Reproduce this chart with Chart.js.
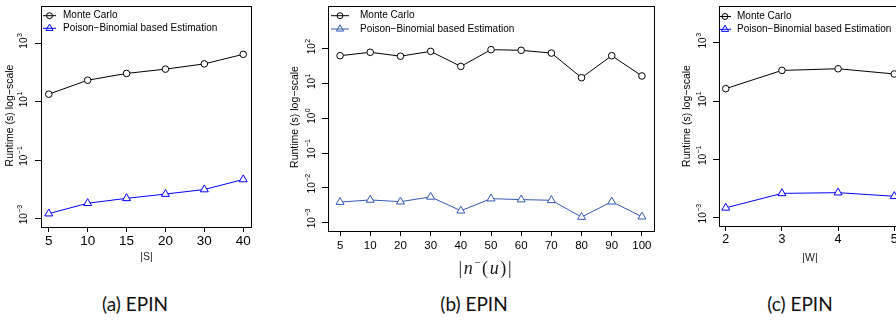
<!DOCTYPE html>
<html>
<head>
<meta charset="utf-8">
<script src="https://cdn.jsdelivr.net/npm/chart.js@4/dist/chart.umd.min.js"></script>
<style>
  html, body { margin: 0; padding: 0; background: #fff; }
  #page { position: relative; width: 896px; height: 323px; overflow: hidden; }
  canvas { position: absolute; top: 0; }
  .caption { position: absolute; top: 292px; width: 160px; text-align: center;
             font-family: Lato, "Open Sans", sans-serif; font-size: 19px; color: #111; }
</style>
</head>
<body>
<div id="page">
  <canvas id="chartS" width="280" height="270" style="left:0px"></canvas>
  <canvas id="chartN" width="400" height="290" style="left:280px"></canvas>
  <canvas id="chartW" width="240" height="270" style="left:680px"></canvas>
  <div class="caption" style="left:55px">(a) EPIN</div>
  <div class="caption" style="left:394px">(b) EPIN</div>
  <div class="caption" style="left:720px">(c) EPIN</div>
</div>
<script>
// (a) runtime vs |S|
const labelsS = ['5', '10', '15', '20', '30', '40'];
const monteCarloS = [18, 54, 92, 129, 195, 414];
const poisonS = [0.0015, 0.0034, 0.0050, 0.0070, 0.010, 0.022];

// (b) runtime vs |n-(u)|
const labelsN = ['5', '10', '20', '30', '40', '50', '60', '70', '80', '90', '100'];
const monteCarloN = [63, 79, 61, 84, 31, 94, 90, 75, 14.7, 63, 16.5];
const poisonN = [0.0039, 0.0045, 0.0040, 0.0055, 0.0022, 0.0049, 0.0046, 0.0044, 0.00145, 0.0040, 0.00148];

// (c) runtime vs |W|
const labelsW = ['2', '3', '4', '5'];
const monteCarloW = [27, 114, 130, 86];
const poisonW = [0.0022, 0.0069, 0.0073, 0.0055];

// y tick exponents (10^e)
const yExpS = [-3, -1, 1, 3];
const yExpN = [-3, -2, -1, 0, 1, 2];
const yExpW = [-3, -1, 1, 3];

const seriesNames = ['Monte Carlo', 'Poison\u2212Binomial based Estimation'];
const yTitle = 'Runtime (s) log\u2212scale';

Chart.defaults.font.family = '"Liberation Sans", Arial, sans-serif';
Chart.defaults.color = '#000';

function drawMarker(ctx, style, x, y, r, color) {
    ctx.beginPath();
    if (style === 'triangle') {
        ctx.moveTo(x, y - r);
        ctx.lineTo(x + r * 0.866, y + r / 2);
        ctx.lineTo(x - r * 0.866, y + r / 2);
        ctx.closePath();
    } else {
        ctx.arc(x, y, r, 0, Math.PI * 2);
    }
    ctx.strokeStyle = color;
    ctx.lineWidth = 1;
    ctx.stroke();
}

// box, rotated y labels, legend and axis titles the way R draws them
const rDecor = {
    id: 'rdecor',
    afterDraw(chart, args, o) {
        const ctx = chart.ctx;
        const a = chart.chartArea;
        const ys = chart.scales.y;
        ctx.save();
        ctx.strokeStyle = '#000';
        ctx.lineWidth = 1;
        ctx.strokeRect(Math.round(a.left) + 0.5, Math.round(a.top) + 0.5,
            Math.round(a.right - a.left), Math.round(a.bottom - a.top));

        ctx.fillStyle = '#000';
        ctx.textBaseline = 'middle';
        ctx.textAlign = 'left';
        o.yExp.forEach(function(e) {
            const py = ys.getPixelForValue(Math.pow(10, e));
            const sup = e < 0 ? '\u2212' + Math.abs(e) : String(e);
            ctx.save();
            ctx.translate(o.yLabelX, py);
            ctx.rotate(-Math.PI / 2);
            ctx.font = '10px "Liberation Sans"';
            const w1 = ctx.measureText('10').width;
            ctx.fillText('10', -w1 / 2, 0);
            ctx.font = '7px "Liberation Sans"';
            ctx.fillText(sup, w1 / 2 + 0.5, -4.5);
            ctx.restore();
        });

        // y title
        ctx.save();
        ctx.translate(o.titleX, o.titleY);
        ctx.rotate(-Math.PI / 2);
        ctx.textAlign = 'center';
        ctx.font = '10.5px "Liberation Sans"';
        ctx.fillText(yTitle, 0, 0);
        ctx.restore();

        // legend
        const lg = o.legend;
        chart.data.datasets.forEach(function(ds, i) {
            const ly = lg.rows[i];
            ctx.strokeStyle = ds.borderColor;
            ctx.lineWidth = 1;
            ctx.beginPath();
            ctx.moveTo(lg.x0, ly);
            ctx.lineTo(lg.x1, ly);
            ctx.stroke();
            drawMarker(ctx, ds.pointStyle, lg.mark, ly, ds.pointRadius * 0.9, ds.borderColor);
            ctx.fillStyle = '#000';
            ctx.font = '10px "Liberation Sans"';
            ctx.textAlign = 'left';
            ctx.fillText(ds.label, lg.text, ly);
        });

        // x title
        if (o.xTitle) {
            ctx.textAlign = 'center';
            ctx.font = '10.5px "Liberation Sans"';
            ctx.fillStyle = '#222';
            ctx.fillText(o.xTitle, o.xTitleX, o.xTitleY);
        }
        if (o.xMath) {
            const pieces = [
                { t: '|', f: '18px "Liberation Serif"', dy: 0 },
                { t: 'n', f: 'italic 18px "Liberation Serif"', dy: 0 },
                { t: '\u2212', f: '11px "Liberation Serif"', dy: -6 },
                { t: '(', f: '18px "Liberation Serif"', dy: 0 },
                { t: 'u', f: 'italic 18px "Liberation Serif"', dy: 0 },
                { t: ')', f: '18px "Liberation Serif"', dy: 0 },
                { t: '|', f: '18px "Liberation Serif"', dy: 0 }
            ];
            const gap = 1.6;
            let total = 0;
            pieces.forEach(function(p) { ctx.font = p.f; p.w = ctx.measureText(p.t).width; total += p.w + gap; });
            total -= gap;
            let px = o.xTitleX - total / 2;
            ctx.textAlign = 'left';
            ctx.fillStyle = '#1a1a1a';
            pieces.forEach(function(p) { ctx.font = p.f; ctx.fillText(p.t, px, o.xTitleY + p.dy); px += p.w + gap; });
        }
        ctx.restore();
    }
};

function makeChart(id, cfg) {
    const n = cfg.labels.length;
    const pad = 0.04 * (n - 1);
    const toPoints = arr => arr.map((v, i) => ({ x: i, y: v }));
    return new Chart(document.getElementById(id), {
        type: 'line',
        data: {
            datasets: [{
                label: seriesNames[0],
                data: toPoints(cfg.mc),
                borderColor: '#000',
                borderWidth: 1,
                pointStyle: 'circle',
                pointRadius: 3.3,
                pointBorderWidth: 1,
                pointBorderColor: '#000',
                pointBackgroundColor: '#fff',
                tension: 0
            }, {
                label: seriesNames[1],
                data: toPoints(cfg.pb),
                borderColor: cfg.pbColor,
                borderWidth: 1,
                pointStyle: 'triangle',
                pointRadius: 4.6,
                pointBorderWidth: 1,
                pointBorderColor: cfg.pbColor,
                pointBackgroundColor: '#fff',
                tension: 0
            }]
        },
        options: {
            responsive: false,
            animation: false,
            layout: { padding: cfg.padding },
            plugins: {
                legend: { display: false },
                tooltip: { enabled: false },
                rdecor: cfg.decor
            },
            scales: {
                x: {
                    type: 'linear',
                    min: -pad,
                    max: n - 1 + pad,
                    border: { display: false },
                    grid: { drawOnChartArea: false, drawTicks: true, tickLength: 5, color: '#000' },
                    ticks: {
                        font: { size: cfg.tickSize },
                        color: '#000',
                        padding: cfg.tickPadding,
                        maxRotation: 0,
                        autoSkip: false,
                        callback: v => cfg.labels[v]
                    },
                    afterBuildTicks: s => { s.ticks = cfg.labels.map((_, i) => ({ value: i })); },
                    afterFit: s => { s.height = cfg.xAxisHeight; }
                },
                y: {
                    type: 'logarithmic',
                    min: Math.pow(10, cfg.yRange[0]),
                    max: Math.pow(10, cfg.yRange[1]),
                    border: { display: false },
                    grid: { drawOnChartArea: false, drawTicks: true, tickLength: 6, color: '#000' },
                    ticks: { display: false },
                    afterBuildTicks: s => { s.ticks = cfg.yExp.map(e => ({ value: Math.pow(10, e) })); },
                    afterFit: s => { s.width = cfg.yAxisWidth; }
                }
            }
        },
        plugins: [rDecor]
    });
}

makeChart('chartS', {
    labels: labelsS, mc: monteCarloS, pb: poisonS, pbColor: '#0000ff',
    yExp: yExpS, yRange: [-3.28, 4.28],
    padding: { left: 0, right: 29, top: 3, bottom: 0 },
    yAxisWidth: 41, xAxisHeight: 43, tickSize: 13.5, tickPadding: 1,
    decor: {
        yExp: yExpS, yLabelX: 24.7, titleX: 10, titleY: 115.5,
        legend: { x0: 43, x1: 56, mark: 49.5, text: 63, rows: [15.7, 28.3] },
        xTitle: '|S|', xTitleX: 146.5, xTitleY: 257.5
    }
});

makeChart('chartN', {
    labels: labelsN, mc: monteCarloN, pb: poisonN, pbColor: '#3558b4',
    yExp: yExpN, yRange: [-3.24, 3.24],
    padding: { left: 0, right: 26, top: 3, bottom: 0 },
    yAxisWidth: 48, xAxisHeight: 59, tickSize: 11.5, tickPadding: 3,
    decor: {
        yExp: yExpN, yLabelX: 32.5, titleX: 15, titleY: 117,
        legend: { x0: 51, x1: 69, mark: 60, text: 80, rows: [15.7, 29] },
        xMath: true, xTitleX: 205, xTitleY: 269
    }
});

makeChart('chartW', {
    labels: labelsW, mc: monteCarloW, pb: poisonW, pbColor: '#0000ff',
    yExp: yExpW, yRange: [-3.28, 4.28],
    padding: { left: 0, right: 19, top: 4, bottom: 0 },
    yAxisWidth: 39, xAxisHeight: 44, tickSize: 12.5, tickPadding: 1.5,
    decor: {
        yExp: yExpW, yLabelX: 23.3, titleX: 7, titleY: 116,
        legend: { x0: 39, x1: 51, mark: 45, text: 57, rows: [16.5, 29.3] },
        xTitle: '|W|', xTitleX: 130, xTitleY: 258
    }
});
</script>
</body>
</html>
